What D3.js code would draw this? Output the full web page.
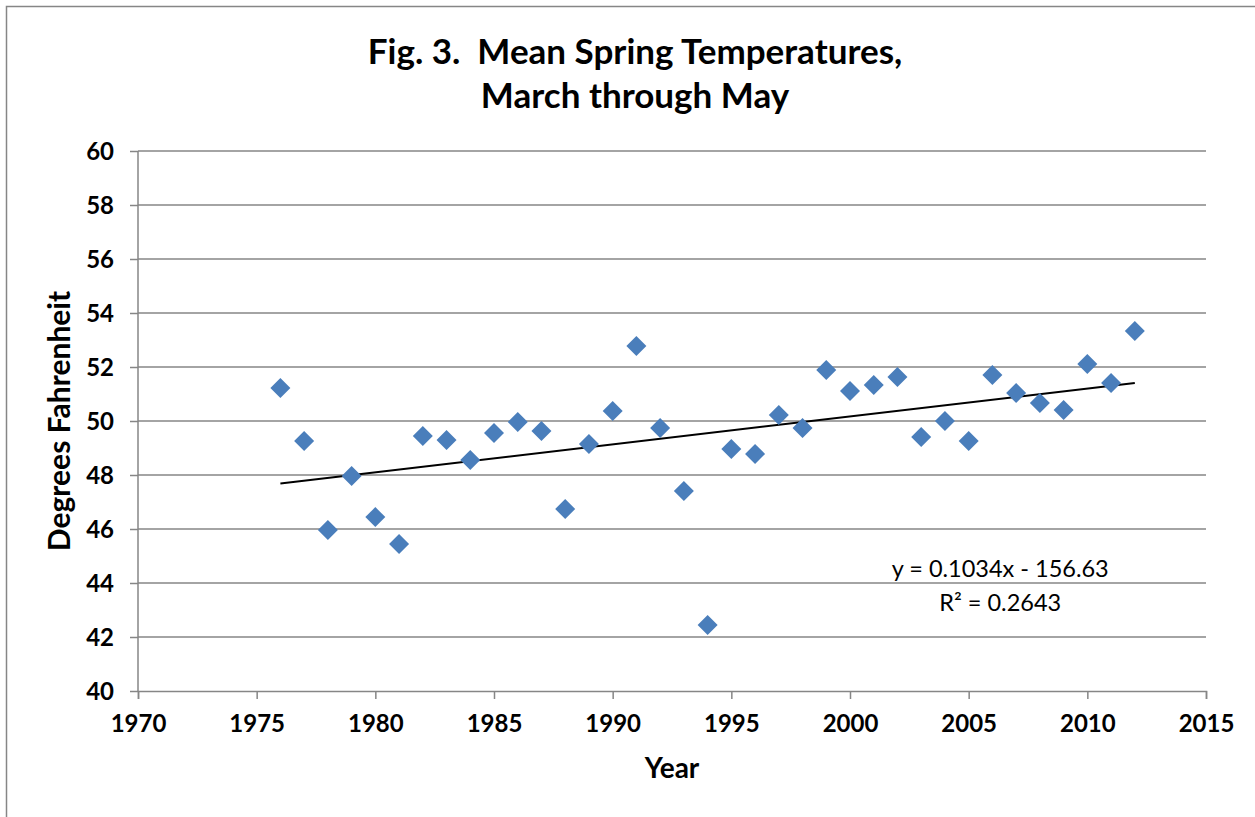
<html>
<head>
  <title>Fig. 3</title>
  <script src="https://d3js.org/d3.v7.min.js"></script>
  <style>
    body { margin: 0; background: #fff; }
    text { font-family: Lato, "Open Sans", sans-serif; }
  </style>
</head>
<body>
  <div id="chart"></div>
  <script type="text/javascript">

    // data
    var years = [1976, 1977, 1978, 1979, 1980, 1981, 1982, 1983, 1984, 1985,
                 1986, 1987, 1988, 1989, 1990, 1991, 1992, 1993, 1994, 1995,
                 1996, 1997, 1998, 1999, 2000, 2001, 2002, 2003, 2004, 2005,
                 2006, 2007, 2008, 2009, 2010, 2011, 2012];
    var temps = [51.22, 49.26, 45.96, 47.96, 46.44, 45.44, 49.44, 49.30, 48.56, 49.56,
                 49.96, 49.63, 46.74, 49.15, 50.37, 52.78, 49.74, 47.41, 42.44, 48.96,
                 48.78, 50.22, 49.74, 51.89, 51.11, 51.33, 51.63, 49.41, 50.00, 49.26,
                 51.70, 51.04, 50.67, 50.41, 52.11, 51.41, 53.33];
    var xTicks = [1970, 1975, 1980, 1985, 1990, 1995, 2000, 2005, 2010, 2015];
    var yTicks = [40, 42, 44, 46, 48, 50, 52, 54, 56, 58, 60];
    var trendSlope = 0.1034;
    var trendIntercept = -156.63;
    var trendLabels = ["y = 0.1034x - 156.63", "R\u00b2 = 0.2643"];

    var W = 1255, H = 817;
    var margin = {top: 151, right: 49, bottom: 126, left: 138};
    var width = W - margin.left - margin.right;
    var height = H - margin.top - margin.bottom;
    var grey = "#868686";

    var x = d3.scaleLinear().domain([1970, 2015]).range([0, width]);
    var y = d3.scaleLinear().domain([40, 60]).range([height, 0]);

    var svg = d3.select('#chart').append('svg')
      .attr('width', W).attr('height', H);

    // chart frame
    svg.append('rect')
      .attr('x', 6.5).attr('y', 6.5)
      .attr('width', W + 20).attr('height', H + 20)
      .attr('fill', 'none').attr('stroke', grey).attr('stroke-width', 1.5);

    svg.append('text')
      .attr('x', 635).attr('y', 64)
      .attr('text-anchor', 'middle')
      .style('font-size', '35px').style('font-weight', 'bold')
      .text('Fig. 3.\u00a0\u00a0Mean Spring Temperatures,');
    svg.append('text')
      .attr('x', 635).attr('y', 108)
      .attr('text-anchor', 'middle')
      .style('font-size', '35px').style('font-weight', 'bold')
      .text('March through May');

    var g = svg.append('g')
      .attr('transform', 'translate(' + margin.left + ',' + margin.top + ')');

    // gridlines
    g.append('g').selectAll('line')
      .data(yTicks.slice(1))
      .enter().append('line')
        .attr('x1', 0).attr('x2', width)
        .attr('y1', function(d) { return y(d); })
        .attr('y2', function(d) { return y(d); })
        .attr('stroke', grey).attr('stroke-width', 1.5);

    var y_axis = d3.axisLeft(y).tickValues(yTicks).tickSize(8).tickPadding(16);
    var x_axis = d3.axisBottom(x).tickValues(xTicks).tickFormat(d3.format('d'))
      .tickSize(8).tickSizeOuter(8).tickPadding(16);

    var ya = g.append('g').attr('class', 'y-axis').call(y_axis);
    var xa = g.append('g').attr('class', 'x-axis')
      .attr('transform', 'translate(0,' + height + ')').call(x_axis);

    [ya, xa].forEach(function(a) {
      a.select('.domain').attr('stroke', grey).attr('stroke-width', 1.5);
      a.selectAll('.tick line').attr('stroke', grey).attr('stroke-width', 1.5);
      a.selectAll('.tick text')
        .attr('fill', '#000')
        .style('font-family', 'Lato, sans-serif')
        .style('font-size', '24px').style('font-weight', 'bold');
    });
    ya.select('.domain').attr('d', 'M0,' + (height + 0.5) + 'V0');
    ya.selectAll('.tick text').attr('dy', '0.36em');

    // trendline
    var trendYears = [d3.min(years), d3.max(years)];
    g.append('line')
      .attr('x1', x(trendYears[0]))
      .attr('y1', y(trendSlope * trendYears[0] + trendIntercept))
      .attr('x2', x(trendYears[1]))
      .attr('y2', y(trendSlope * trendYears[1] + trendIntercept))
      .attr('stroke', '#000').attr('stroke-width', 2);

    // points
    var diamond = d3.symbol().type(d3.symbolSquare).size(200);
    g.append('g').selectAll('path')
      .data(years)
      .enter().append('path')
        .attr('d', diamond)
        .attr('transform', function(d, i) {
          return 'translate(' + x(d) + ',' + y(temps[i]) + ') rotate(45)';
        })
        .attr('fill', '#4a7ebb');

    // trendline equation
    g.append('text')
      .attr('x', x(2006.33)).attr('y', y(44.22))
      .attr('text-anchor', 'middle')
      .style('font-size', '23.5px')
      .text(trendLabels[0]);
    g.append('text')
      .attr('x', x(2006.33)).attr('y', y(42.96))
      .attr('text-anchor', 'middle')
      .style('font-size', '23.5px')
      .text(trendLabels[1]);

    // axis titles
    svg.append('text')
      .attr('x', margin.left + width / 2).attr('y', 778)
      .attr('text-anchor', 'middle')
      .style('font-size', '28px').style('font-weight', 'bold')
      .text('Year');
    svg.append('text')
      .attr('transform', 'translate(70,' + (margin.top + height / 2) + ') rotate(-90)')
      .attr('text-anchor', 'middle')
      .style('font-size', '30px').style('font-weight', 'bold')
      .text('Degrees Fahrenheit');

  </script>
</body>
</html>
